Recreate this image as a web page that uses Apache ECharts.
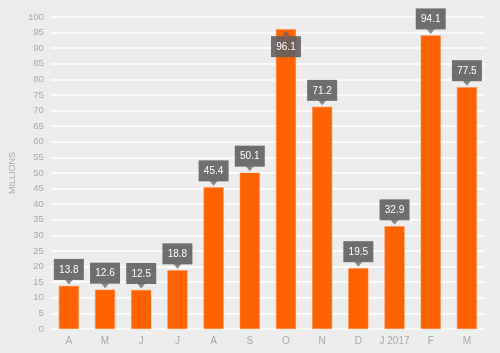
<!DOCTYPE html>
<html>
<head>
<meta charset="utf-8">
<script src="https://cdn.jsdelivr.net/npm/echarts@6/dist/echarts.min.js"></script>
<style>
  html, body { margin: 0; padding: 0; background: #ededed; }
  #chart { width: 500px; height: 353px; }
</style>
</head>
<body>
<div id="chart"></div>
<script>
// months, Apr 2016 - Mar 2017
const months = ['A', 'M', 'J', 'J', 'A', 'S', 'O', 'N', 'D', 'J 2017', 'F', 'M'];
const values = [13.8, 12.6, 12.5, 18.8, 45.4, 50.1, 96.1, 71.2, 19.5, 32.9, 94.1, 77.5];
const yTicks = [0, 5, 10, 15, 20, 25, 30, 35, 40, 45, 50, 55, 60, 65, 70, 75, 80, 85, 90, 95, 100];

const orange = '#ff6200';
const calloutBg = 'rgba(95,95,95,0.9)';
const font = '"Liberation Sans", Arial, sans-serif';

// the tallest bar (October) has its label pushed inside the bar
const insideIdx = 6;

const barData = values.map((v, i) => {
  if (i !== insideIdx) return v;
  return { value: v, label: { position: 'insideTop', distance: 7 } };
});

const pointerData = values.map((v, i) => {
  if (i !== insideIdx) return v;
  return { value: v, symbolRotate: 0, symbolOffset: [0, 4] };
});

const chart = echarts.init(document.getElementById('chart'));
chart.setOption({
  backgroundColor: '#ededed',
  animation: false,
  grid: { left: 45, right: 15, top: 17, bottom: 24 },
  xAxis: {
    type: 'category',
    data: months,
    axisLine: { show: false },
    axisTick: { show: false },
    axisLabel: { color: '#a8a8a8', fontSize: 10, fontFamily: font, margin: 7, interval: 0 }
  },
  yAxis: {
    type: 'value',
    min: yTicks[0],
    max: yTicks[yTicks.length - 1],
    interval: 5,
    name: 'MILLIONS',
    nameLocation: 'middle',
    nameGap: 33,
    nameTextStyle: { color: '#a8a8a8', fontSize: 9, fontFamily: font },
    axisLine: { show: false },
    axisTick: { show: false },
    axisLabel: { color: '#a8a8a8', fontSize: 9.5, fontFamily: font, margin: 7 },
    splitLine: { lineStyle: { color: '#ffffff', width: 1.5 } }
  },
  series: [
    {
      type: 'bar',
      data: barData,
      barWidth: 20,
      itemStyle: { color: orange, borderColor: '#ff8a40', borderWidth: 0.5 },
      label: {
        show: true,
        position: 'top',
        distance: 6,
        formatter: p => p.value.toFixed(1),
        color: '#ffffff',
        fontSize: 10,
        fontFamily: font,
        backgroundColor: calloutBg,
        width: 22,
        align: 'center',
        padding: [6, 4, 5, 4]
      },
      z: 2
    },
    {
      type: 'scatter',
      data: pointerData,
      symbol: 'triangle',
      symbolSize: [8, 5],
      symbolRotate: 180,
      symbolOffset: [0, -4],
      itemStyle: { color: calloutBg },
      silent: true,
      z: 3
    }
  ]
});
</script>
</body>
</html>
